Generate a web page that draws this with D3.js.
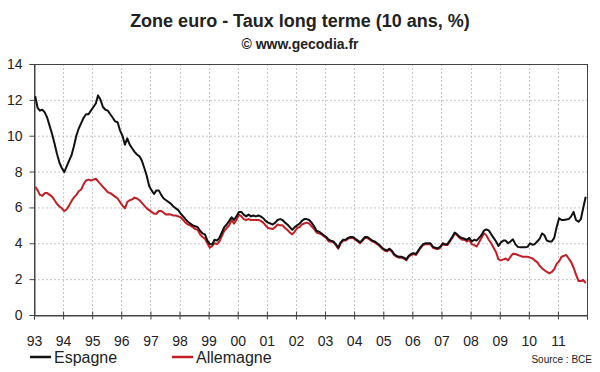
<!DOCTYPE html>
<html>
<head>
<meta charset="utf-8">
<script src="https://cdn.jsdelivr.net/npm/d3@7"></script>
<style>
  body { margin: 0; background: #fff; }
  text { font-family: "Liberation Sans", Arial, sans-serif; fill: #222; }
</style>
</head>
<body>
<svg id="chart" width="600" height="372"></svg>
<script>
// monthly values, Jan 1993 -> Dec 2011
const startYear = 1993;
const yearLabels = ["93","94","95","96","97","98","99","00","01","02","03","04","05","06","07","08","09","10","11"];
const yTicks = [0, 2, 4, 6, 8, 10, 12, 14];

const espagne = [
  12.2, 11.55, 11.4, 11.45, 11.3, 11.0, 10.55, 10.1, 9.55, 9.0, 8.5, 8.2,   // 93
  7.97, 8.3, 8.6, 8.9, 9.4, 10.0, 10.4, 10.7, 11.0, 11.2, 11.2, 11.4,      // 94
  11.6, 11.8, 12.25, 12.0, 11.6, 11.45, 11.4, 11.2, 11.0, 10.8, 10.75, 10.3, // 95
  10.0, 9.5, 9.85, 9.5, 9.3, 9.1, 8.95, 8.85, 8.6, 8.2, 7.75, 7.2,         // 96
  6.95, 6.75, 6.95, 6.95, 6.7, 6.5, 6.4, 6.3, 6.2, 6.05, 5.95, 5.85,       // 97
  5.65, 5.5, 5.35, 5.2, 5.1, 5.0, 4.95, 4.9, 4.7, 4.55, 4.5, 4.15,         // 98
  3.95, 3.95, 4.2, 4.15, 4.3, 4.6, 4.9, 5.05, 5.25, 5.45, 5.3, 5.5,        // 99
  5.75, 5.75, 5.6, 5.5, 5.6, 5.5, 5.55, 5.5, 5.55, 5.5, 5.4, 5.25,         // 00
  5.15, 5.1, 5.05, 5.15, 5.3, 5.35, 5.3, 5.15, 5.05, 4.9, 4.75, 4.9,       // 01
  5.0, 5.1, 5.25, 5.35, 5.35, 5.3, 5.15, 4.95, 4.7, 4.65, 4.55, 4.45,      // 02
  4.35, 4.2, 4.15, 4.1, 3.95, 3.75, 4.05, 4.2, 4.2, 4.3, 4.35, 4.35,       // 03
  4.25, 4.15, 4.05, 4.2, 4.35, 4.35, 4.25, 4.15, 4.1, 4.0, 3.9, 3.75,      // 04
  3.65, 3.6, 3.7, 3.6, 3.4, 3.3, 3.25, 3.25, 3.2, 3.1, 3.3, 3.4,           // 05
  3.45, 3.4, 3.6, 3.8, 3.95, 4.0, 4.0, 4.0, 3.8, 3.75, 3.72, 3.8,          // 06
  4.0, 3.95, 3.95, 4.15, 4.35, 4.6, 4.5, 4.35, 4.3, 4.25, 4.2, 4.3,        // 07
  4.1, 4.2, 4.15, 4.3, 4.45, 4.7, 4.77, 4.72, 4.5, 4.3, 4.1, 3.85,         // 08
  4.05, 4.15, 4.15, 4.0, 4.1, 4.22, 3.95, 3.8, 3.78, 3.78, 3.78, 3.8,      // 09
  4.0, 3.92, 3.95, 4.1, 4.25, 4.55, 4.45, 4.15, 4.1, 4.1, 4.3, 4.9,        // 10
  5.4, 5.3, 5.3, 5.33, 5.35, 5.5, 5.75, 5.3, 5.2, 5.35, 6.0, 6.6           // 11
];

const allemagne = [
  7.15, 6.95, 6.7, 6.65, 6.8, 6.8, 6.7, 6.6, 6.4, 6.2, 6.05, 5.95,         // 93
  5.8, 5.9, 6.1, 6.35, 6.55, 6.7, 6.9, 7.0, 7.3, 7.5, 7.55, 7.5,           // 94
  7.55, 7.6, 7.45, 7.3, 7.15, 7.0, 6.85, 6.8, 6.7, 6.6, 6.5, 6.3,          // 95
  6.1, 5.95, 6.3, 6.4, 6.45, 6.55, 6.5, 6.4, 6.25, 6.1, 5.95, 5.85,        // 96
  5.75, 5.65, 5.65, 5.8, 5.8, 5.7, 5.6, 5.62, 5.6, 5.55, 5.55, 5.5,        // 97
  5.45, 5.3, 5.15, 5.05, 5.0, 4.9, 4.8, 4.75, 4.5, 4.35, 4.25, 4.0,        // 98
  3.75, 3.85, 4.0, 3.95, 4.1, 4.4, 4.7, 4.85, 5.0, 5.3, 5.1, 5.3,          // 99
  5.6, 5.5, 5.35, 5.3, 5.35, 5.3, 5.3, 5.3, 5.3, 5.25, 5.15, 5.0,          // 00
  4.85, 4.83, 4.8, 4.9, 5.05, 5.0, 5.0, 4.85, 4.75, 4.6, 4.5, 4.65,        // 01
  4.85, 4.9, 5.05, 5.1, 5.15, 5.1, 4.95, 4.8, 4.6, 4.55, 4.5, 4.4,         // 02
  4.3, 4.1, 4.1, 4.05, 3.9, 3.7, 4.0, 4.15, 4.15, 4.25, 4.3, 4.3,          // 03
  4.2, 4.1, 4.0, 4.15, 4.3, 4.3, 4.2, 4.1, 4.05, 3.95, 3.85, 3.7,          // 04
  3.6, 3.55, 3.65, 3.55, 3.35, 3.25, 3.2, 3.2, 3.15, 3.05, 3.25, 3.35,     // 05
  3.4, 3.35, 3.55, 3.75, 3.9, 3.95, 3.95, 3.95, 3.75, 3.7, 3.68, 3.75,     // 06
  3.95, 3.9, 3.9, 4.1, 4.3, 4.55, 4.45, 4.3, 4.2, 4.2, 4.1, 4.2,           // 07
  3.95, 3.9, 3.82, 4.05, 4.3, 4.55, 4.45, 4.2, 4.0, 3.75, 3.5, 3.1,        // 08
  3.05, 3.1, 3.15, 3.05, 3.25, 3.42, 3.4, 3.35, 3.3, 3.25, 3.25, 3.25,     // 09
  3.2, 3.15, 3.05, 2.95, 2.75, 2.6, 2.5, 2.4, 2.32, 2.4, 2.55, 2.85,       // 10
  3.0, 3.25, 3.3, 3.35, 3.15, 2.95, 2.65, 2.25, 1.9, 1.9, 1.95, 1.78       // 11
];

const series = [
  { name: "Espagne", color: "#111111", values: espagne },
  { name: "Allemagne", color: "#c41e24", values: allemagne }
];

const svg = d3.select("#chart");
const plotLeft = 34, plotRight = 587, plotTop = 64, plotBottom = 315;

const x = d3.scaleTime()
  .domain([new Date(startYear, 0, 1), new Date(startYear + yearLabels.length, 0, 1)])
  .range([plotLeft, plotRight]);
const y = d3.scaleLinear().domain([0, 14]).range([plotBottom, plotTop]);

const yearDates = yearLabels.map((d, i) => new Date(startYear + i, 0, 1));
const monthDate = (i) => new Date(startYear, i, 16);

// title
svg.append("text")
  .attr("x", 300).attr("y", 27)
  .attr("text-anchor", "middle")
  .style("font-size", "18px").style("font-weight", "bold")
  .text("Zone euro - Taux long terme (10 ans, %)");
svg.append("text")
  .attr("x", 300).attr("y", 49)
  .attr("text-anchor", "middle")
  .style("font-size", "14px").style("font-weight", "bold")
  .text("© www.gecodia.fr");

// grid
const grid = svg.append("g")
  .attr("stroke", "#c8c8c8").attr("stroke-dasharray", "2,2").attr("stroke-width", 1);
grid.selectAll("line.h")
  .data(yTicks.slice(1, -1))
  .join("line")
  .attr("x1", plotLeft).attr("x2", plotRight)
  .attr("y1", (d) => y(d) + 0.5).attr("y2", (d) => y(d) + 0.5);
grid.selectAll("line.v")
  .data(yearDates.slice(1))
  .join("line")
  .attr("x1", (d) => Math.round(x(d)) + 0.5).attr("x2", (d) => Math.round(x(d)) + 0.5)
  .attr("y1", plotTop).attr("y2", plotBottom);

// frame
svg.append("rect")
  .attr("x", plotLeft + 0.5).attr("y", plotTop + 0.5)
  .attr("width", plotRight - plotLeft).attr("height", plotBottom - plotTop)
  .attr("fill", "none").attr("stroke", "#444").attr("stroke-width", 1);

// axes
const yAxis = svg.append("g")
  .attr("transform", `translate(${plotLeft + 0.5},0)`)
  .call(d3.axisLeft(y).tickValues(yTicks).tickSize(5).tickPadding(7));
const xAxis = svg.append("g")
  .attr("transform", `translate(0,${plotBottom + 0.5})`)
  .call(d3.axisBottom(x)
    .tickValues(yearDates.concat([new Date(startYear + yearLabels.length, 0, 1)]))
    .tickSize(4)
    .tickPadding(17)
    .tickFormat((d, i) => yearLabels[i] || ""));
xAxis.selectAll(".tick line").attr("y1", -4);
[yAxis, xAxis].forEach((g) => {
  g.select(".domain").attr("stroke", "#444");
  g.selectAll(".tick line").attr("stroke", "#444");
  g.selectAll("text")
    .style("font-size", "14px")
    .style("font-family", "'Liberation Sans', Arial, sans-serif")
    .attr("fill", "#222");
});

// lines
const line = d3.line()
  .x((d, i) => x(monthDate(i)))
  .y((d) => y(d));

svg.selectAll("path.serie")
  .data(series.slice().reverse())
  .join("path")
  .attr("class", "serie")
  .attr("fill", "none")
  .attr("stroke", (d) => d.color)
  .attr("stroke-width", 2)
  .attr("stroke-linejoin", "round")
  .attr("d", (d) => line(d.values));

// legend
const legendX = [30, 172];
const legend = svg.selectAll("g.legend")
  .data(series)
  .join("g")
  .attr("class", "legend")
  .attr("transform", (d, i) => `translate(${legendX[i]},357)`);
legend.append("line")
  .attr("x1", 0).attr("x2", 21)
  .attr("stroke", (d) => d.color).attr("stroke-width", 2.5);
legend.append("text")
  .attr("x", 24).attr("y", 5.5)
  .style("font-size", "16px")
  .text((d) => d.name);

svg.append("text")
  .attr("x", 592).attr("y", 363)
  .attr("text-anchor", "end")
  .style("font-size", "10px")
  .attr("fill", "#444")
  .text("Source : BCE");
</script>
</body>
</html>
